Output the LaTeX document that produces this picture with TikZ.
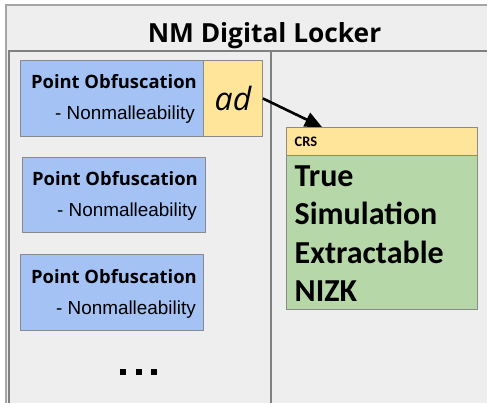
\documentclass[tikz,border=0pt]{standalone}
\usepackage{fontspec}
\usetikzlibrary{arrows.meta,calc}
\setmainfont{Liberation Sans}
\newfontfamily\opensans{Open Sans}
\newfontfamily\arialish{Liberation Sans}
\newfontfamily\carlito{Carlito}

\definecolor{panelbg}{HTML}{EEEEEE}
\definecolor{framegray}{HTML}{A6A6A6}
\definecolor{panelline}{HTML}{808080}
\definecolor{boxline}{HTML}{8A8A8A}
\definecolor{poblue}{HTML}{A4C2F4}
\definecolor{adyellow}{HTML}{FFE599}
\definecolor{nizkgreen}{HTML}{B6D7A8}

\tikzset{
  pobox/.style={draw=boxline, line width=0.9pt, fill=poblue, inner sep=0pt},
  yellowbox/.style={draw=boxline, line width=0.9pt, fill=adyellow, inner sep=0pt},
  greenbox/.style={draw=boxline, line width=0.9pt, fill=nizkgreen, inner sep=0pt},
  potitle/.style={anchor=base east, inner sep=0pt, font=\opensans\bfseries\fontsize{18.4}{21}\selectfont},
  posub/.style={anchor=base east, inner sep=0pt, font=\arialish\fontsize{18.9}{22}\selectfont},
  nizktext/.style={anchor=base west, inner sep=0pt, font=\carlito\bfseries\fontsize{32}{36}\selectfont},
  dotsq/.style={fill=black, minimum size=6pt, inner sep=0pt},
}

\begin{document}
\begin{tikzpicture}[x=1pt,y=-1pt]
  \useasboundingbox (0,0) rectangle (487,402);
  \clip (0,0) rectangle (487,402);

  % outer locker frame
  \path[fill=panelbg, draw=framegray, line width=1.6pt] (6,5) rectangle (495,410);
  \node[anchor=base, inner sep=0pt, font=\opensans\bfseries\fontsize{26.3}{30}\selectfont]
    (title) at (264.5,42) {NM Digital Locker};

  % inner panels with divider
  \path[draw=panelline, line width=1.1pt] (9,51) rectangle (495,410);
  \draw[panelline, line width=1.1pt] (271,51) -- (271,410);

  % point obfuscation boxes
  \node[pobox, minimum width=183pt, minimum height=76pt, anchor=north west] (po1) at (20,60) {};
  \node[yellowbox, minimum width=59pt, minimum height=76pt, anchor=north west] (ad) at (203,60) {};
  \node[anchor=base, inner sep=0pt, font=\opensans\itshape\fontsize{32}{35}\selectfont] (adtext) at (233,110) {ad};
  \node[potitle] (po1t) at (197,88) {Point Obfuscation};
  \node[posub] (po1s) at (195,119) {- Nonmalleability};

  \node[pobox, minimum width=183pt, minimum height=75pt, anchor=north west] (po2) at (22,157) {};
  \node[potitle] (po2t) at (198,185) {Point Obfuscation};
  \node[posub] (po2s) at (197,216) {- Nonmalleability};

  \node[pobox, minimum width=183pt, minimum height=76pt, anchor=north west] (po3) at (20,254) {};
  \node[potitle] (po3t) at (197,283) {Point Obfuscation};
  \node[posub] (po3s) at (196,314) {- Nonmalleability};

  % ellipsis
  \node[dotsq] (d1) at (123,372) {};
  \node[dotsq] (d2) at (138.5,372) {};
  \node[dotsq] (d3) at (154,372) {};

  % CRS header and NIZK body
  \node[yellowbox, minimum width=191pt, minimum height=28pt, anchor=north west] (crs) at (286,127) {};
  \node[anchor=base west, inner sep=0pt, font=\carlito\bfseries\fontsize{14.5}{16}\selectfont] (crst) at (294.5,146.5) {CRS};
  \node[greenbox, minimum width=191pt, minimum height=154pt, anchor=north west] (nizk) at (286,155) {};
  \node[nizktext] (l1) at (294.5,186) {True};
  \node[nizktext] (l2) at (294.5,224) {Simulation};
  \node[nizktext] (l3) at (294.5,263) {Extractable};
  \node[nizktext] (l4) at (294.5,301) {NIZK};

  % ad feeds the CRS
  \coordinate (crsin) at ([xshift=36pt]crs.north west);
  \draw[line width=2.6pt, -{Triangle[length=17pt, width=15pt]}] (ad.east) -- (crsin);
\end{tikzpicture}
\end{document}
